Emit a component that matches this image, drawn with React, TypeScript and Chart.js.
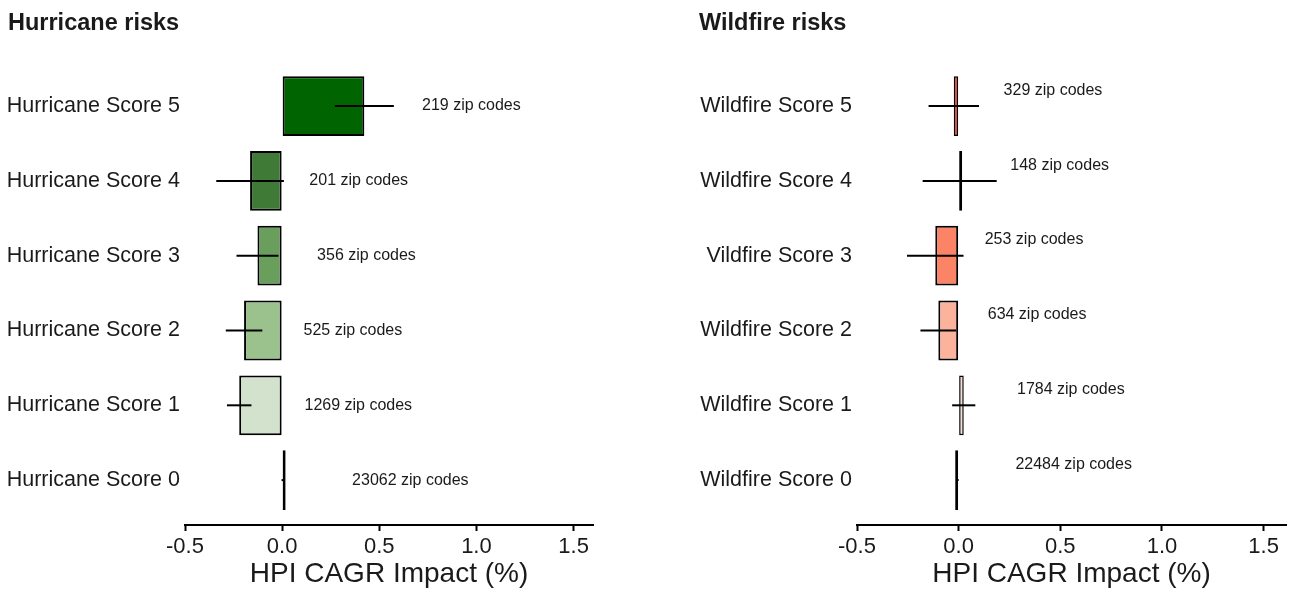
import React, { useEffect, useRef } from 'react';
import { Chart, registerables } from 'chart.js';

Chart.register(...registerables);

// ---------- data ----------
const hurricaneCategories = [
  'Hurricane Score 5',
  'Hurricane Score 4',
  'Hurricane Score 3',
  'Hurricane Score 2',
  'Hurricane Score 1',
  'Hurricane Score 0',
];
const hurricaneValues = [0.423, -0.165, -0.127, -0.196, -0.221, 0.002];
const hurricaneErrors = [0.152, 0.174, 0.108, 0.094, 0.063, 0.005];
const hurricaneCounts = [219, 201, 356, 525, 1269, 23062];
const hurricaneLabelX = [0.72, 0.14, 0.18, 0.11, 0.115, 0.36];
const hurricaneColors = ['#006400', '#3f7b37', '#6a9e5d', '#9bc28d', '#d2e2cc', '#e8f0e6'];

const wildfireCategories = [
  'Wildfire Score 5',
  'Wildfire Score 4',
  'Vildfire Score 3',
  'Wildfire Score 2',
  'Wildfire Score 1',
  'Wildfire Score 0',
];
const wildfireValues = [-0.024, 0.005, -0.115, -0.1, 0.025, -0.004];
const wildfireErrors = [0.124, 0.182, 0.139, 0.088, 0.057, 0.004];
const wildfireCounts = [329, 148, 253, 634, 1784, 22484];
const wildfireLabelX = [0.221, 0.254, 0.128, 0.143, 0.287, 0.279];
const wildfireColors = ['#e42a1a', '#fcd5c5', '#fb8466', '#fcb39b', '#f4dcd6', '#fff0ea'];

const xTickValues = [-0.5, 0.0, 0.5, 1.0, 1.5];

const FONT = '"Liberation Sans", Arial, Helvetica, sans-serif';
const TEXT = '#1a1a1a';

const annotPlugin = {
  id: 'annot',
  afterDatasetsDraw(chart: any, _args: any, opts: any) {
    const { ctx } = chart;
    const xs = chart.scales.x;
    const ys = chart.scales.y;
    ctx.save();
    ctx.strokeStyle = '#000';
    ctx.lineWidth = 2;
    opts.values.forEach((v: number, i: number) => {
      const e = opts.errors[i];
      const y = ys.getPixelForValue(i);
      ctx.beginPath();
      ctx.moveTo(xs.getPixelForValue(v - e), y);
      ctx.lineTo(xs.getPixelForValue(v + e), y);
      ctx.stroke();
    });
    ctx.fillStyle = TEXT;
    ctx.font = `16px ${FONT}`;
    ctx.textAlign = 'left';
    ctx.textBaseline = 'middle';
    opts.counts.forEach((n: number, i: number) => {
      ctx.fillText(
        `${n} zip codes`,
        xs.getPixelForValue(opts.labelX[i]),
        ys.getPixelForValue(i + opts.labelDy)
      );
    });
    ctx.restore();
  },
};

// thinner outline on very narrow (but non-zero) bars so the fill stays visible
const borderFor = (c: any) => {
  const xs = c.chart.scales?.x;
  const v = c.raw?.x ?? 0;
  if (!xs) return 2;
  const w = Math.abs(xs.getPixelForValue(v) - xs.getPixelForValue(0));
  return w > 4 && w < 8 ? 1.5 : 2;
};

function makeConfig(p: {
  title: string;
  categories: string[];
  values: number[];
  errors: number[];
  counts: number[];
  labelX: number[];
  colors: string[];
  xMax: number;
  yAxisWidth: number;
  padRight: number;
  labelDy: number;
}): any {
  return {
    type: 'bar',
    data: {
      datasets: [
        {
          data: p.values.map((v, i) => ({ x: v, y: i })),
          backgroundColor: p.colors,
          borderColor: '#000',
          borderWidth: borderFor,
          borderSkipped: false,
          minBarLength: 3.5,
          categoryPercentage: 0.8,
          barPercentage: 1,
        },
      ],
    },
    options: {
      indexAxis: 'y',
      animation: false,
      responsive: false,
      devicePixelRatio: 1,
      layout: { padding: { left: 8, right: p.padRight, top: 0, bottom: 0 } },
      plugins: {
        legend: { display: false },
        tooltip: { enabled: false },
        title: {
          display: true,
          text: p.title,
          align: 'start',
          color: TEXT,
          font: { family: FONT, size: 23.5, weight: 'bold', lineHeight: 1.2 },
          padding: { top: 9, bottom: 24 },
        },
        annot: {
          values: p.values,
          errors: p.errors,
          counts: p.counts,
          labelX: p.labelX,
          labelDy: p.labelDy,
        },
      },
      scales: {
        x: {
          type: 'linear',
          min: -0.5,
          max: p.xMax,
          bounds: 'data',
          offset: false,
          afterBuildTicks: (axis: any) => {
            axis.ticks = xTickValues.map((v) => ({ value: v }));
          },
          afterFit: (axis: any) => {
            axis.height = 67;
          },
          ticks: {
            callback: (v: any) => Number(v).toFixed(1),
            color: TEXT,
            font: { family: FONT, size: 22, lineHeight: 1.2 },
            padding: 3,
            maxRotation: 0,
            autoSkip: false,
          },
          grid: {
            display: true,
            drawOnChartArea: false,
            drawTicks: true,
            tickLength: 6,
            tickWidth: 2,
            tickColor: '#000',
          },
          border: { display: true, color: '#000', width: 2 },
          title: {
            display: true,
            text: 'HPI CAGR Impact (%)',
            color: TEXT,
            font: { family: FONT, size: 28, lineHeight: 1.2 },
            padding: { top: 0, bottom: 1 },
          },
        },
        y: {
          type: 'linear',
          reverse: true,
          min: -0.6,
          max: 5.6,
          bounds: 'data',
          offset: false,
          afterBuildTicks: (axis: any) => {
            axis.ticks = p.categories.map((_, i) => ({ value: i }));
          },
          afterFit: (axis: any) => {
            axis.width = p.yAxisWidth;
          },
          ticks: {
            callback: (v: any) => p.categories[Math.round(Number(v))] ?? '',
            color: TEXT,
            font: { family: FONT, size: 21.5, lineHeight: 1.2 },
            padding: 5,
            autoSkip: false,
          },
          grid: { display: false, drawTicks: false },
          border: { display: false },
        },
      },
    },
    plugins: [annotPlugin],
  };
}

function ChartCanvas({ config, left, width }: { config: any; left: number; width: number }) {
  const ref = useRef<HTMLCanvasElement | null>(null);
  useEffect(() => {
    if (!ref.current) return;
    const chart = new Chart(ref.current, config);
    return () => chart.destroy();
  }, [config]);
  return (
    <canvas
      ref={ref}
      width={width}
      height={592}
      style={{ position: 'absolute', left, top: 0, width, height: 592 }}
    />
  );
}

const hurricaneConfig = makeConfig({
  title: 'Hurricane risks',
  categories: hurricaneCategories,
  values: hurricaneValues,
  errors: hurricaneErrors,
  counts: hurricaneCounts,
  labelX: hurricaneLabelX,
  colors: hurricaneColors,
  xMax: 1.6,
  yAxisWidth: 177,
  padRight: 52,
  labelDy: 0,
});

const wildfireConfig = makeConfig({
  title: 'Wildfire risks',
  categories: wildfireCategories,
  values: wildfireValues,
  errors: wildfireErrors,
  counts: wildfireCounts,
  labelX: wildfireLabelX,
  colors: wildfireColors,
  xMax: 1.61,
  yAxisWidth: 158,
  padRight: 7,
  labelDy: -0.21,
});

export default function App() {
  return (
    <div
      style={{
        position: 'absolute',
        left: 0,
        top: 0,
        width: 1293,
        height: 592,
        background: '#fff',
        overflow: 'hidden',
      }}
    >
      <ChartCanvas config={hurricaneConfig} left={0} width={645} />
      <ChartCanvas config={wildfireConfig} left={691} width={602} />
    </div>
  );
}
